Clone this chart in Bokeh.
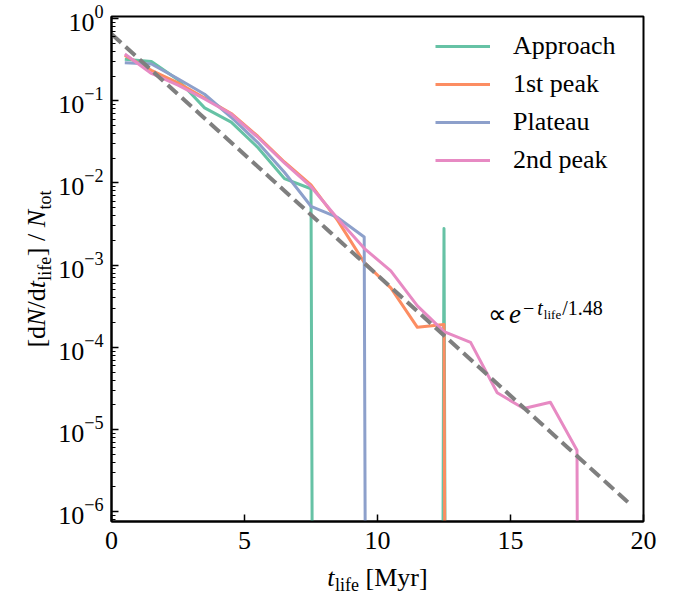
import numpy as np
from bokeh.plotting import figure
from bokeh.models import Range1d, FixedTicker, Legend, LegendItem, ColumnDataSource
from bokeh.core.properties import value
from bokeh.embed import file_html
from bokeh.resources import INLINE

# ---------------- data ----------------
t_bins = [0.5, 1.5, 2.5, 3.5, 4.5, 5.5, 6.5, 7.5, 8.5, 9.5,
          10.5, 11.5, 12.5, 13.5, 14.5, 15.5, 16.5, 17.5, 18.5]

approach = [0.32, 0.30, 0.18, 0.082, 0.055, 0.027, 0.0113, 0.0085,
            0, 0, 0, 0, 0.0028, 0]
peak1 = [0.355, 0.235, 0.165, 0.108, 0.070, 0.037, 0.018, 0.0095,
         0.0035, 0.00108, 0.00053, 0.000175, 0.00019, 0]
plateau = [0.29, 0.28, 0.185, 0.12, 0.063, 0.031, 0.0135, 0.0052,
           0.0038, 0.0022, 0]
peak2 = [0.37, 0.215, 0.155, 0.105, 0.069, 0.036, 0.0175, 0.0090,
         0.0037, 0.0016, 0.00085, 0.00032, 0.000155, 0.000115,
         0.000028, 0.000018, 0.0000215, 0.0000056, 0]

series_names = ["Approach", "1st peak", "Plateau", "2nd peak"]
series_values = [approach, peak1, plateau, peak2]
series_colors = ["#66c2a5", "#fc8d62", "#8da0cb", "#e78ac3"]

FIT_AMP = 0.65
FIT_TAU = 1.48
FIT_TMAX = 19.5

x_ticks = [0, 5, 10, 15, 20]
y_ticks = [1e-6, 1e-5, 1e-4, 1e-3, 1e-2, 1e-1, 1e0]

XMIN, XMAX = 0, 20
YMIN, YMAX = 7.6e-7, 1.06
FLOOR = 1e-100  # zero bins are drawn far below the axis (clipped)

# ---------------- figure ----------------
W_PX, H_PX = 683, 597
L_PX, R_PX, T_PX, B_PX = 111, 643, 16, 521

p = figure(width=W_PX, height=H_PX, x_range=Range1d(XMIN, XMAX),
           y_range=Range1d(YMIN, YMAX), y_axis_type="log",
           output_backend="svg", toolbar_location=None,
           min_border_left=L_PX, min_border_right=W_PX - R_PX,
           min_border_top=T_PX, min_border_bottom=H_PX - B_PX)
p.grid.visible = False
p.background_fill_color = "white"
p.border_fill_color = "white"
p.outline_line_color = "black"
p.outline_line_width = 2

FONT = "Liberation Serif"

p.xaxis.ticker = FixedTicker(ticks=x_ticks)
y_minor = [m * 10.0 ** e for e in range(-7, 1) for m in range(2, 10)]
y_minor = [v for v in y_minor if YMIN <= v <= YMAX]
p.yaxis.ticker = FixedTicker(ticks=y_ticks, minor_ticks=y_minor)

for ax in (p.xaxis[0], p.yaxis[0]):
    ax.axis_line_width = 2
    ax.major_tick_in = 7
    ax.major_tick_out = 0
    ax.major_tick_line_width = 1.5
    ax.minor_tick_in = 4
    ax.minor_tick_out = 0
    ax.minor_tick_line_width = 1
    ax.major_label_text_font = FONT
    ax.major_label_text_font_size = "26px"
    ax.major_label_text_color = "black"
    ax.major_label_standoff = 8
p.xaxis.minor_tick_line_color = None
p.xaxis.major_label_standoff = 10

# ---------------- series ----------------
items = []
for name, vals, color in zip(series_names, series_values, series_colors):
    xs = t_bins[:len(vals)]
    ys = [v if v > 0 else FLOOR for v in vals]
    r = p.line(xs, ys, line_color=color, line_width=3, line_join="round")
    items.append(LegendItem(label=name, renderers=[r]))

t_fit = np.linspace(0, FIT_TMAX, 100)
p.line(t_fit, FIT_AMP * np.exp(-t_fit / FIT_TAU), line_color="#7f7f7f",
       line_width=4, line_dash="13 6")

legend = Legend(items=items, location=(324, 346), margin=0, padding=0,
                spacing=8, glyph_width=55, glyph_height=30, label_height=30,
                label_standoff=23, label_text_font=FONT,
                label_text_font_size="26px", label_text_color="black",
                background_fill_alpha=0, border_line_color=None)
p.add_layout(legend)

# ---------------- composite texts ----------------
W = {' ': 250, '[': 333, ']': 333, 'd': 500, 'N': 722, '/': 278, 't': 278,
     'l': 278, 'i': 278, 'f': 333, 'e': 444, 'o': 500, 'M': 889, 'y': 500,
     'r': 333, '1': 500, '.': 250, '4': 500, '8': 500, '\u2212': 564,
     '\u221d': 713}
WI = {'N': 667, 't': 278, 'e': 444}
BASE_FIX = 0.38  # em shift so that the drawn baseline lands where intended

LT, LB = np.log10(YMAX), np.log10(YMIN)


def tw(s, size, italic=False):
    return sum((WI[c] if italic and c in WI else W.get(c, 500)) for c in s) / 1000 * size


def dx(px):
    return XMIN + (px - L_PX) / (R_PX - L_PX) * (XMAX - XMIN)


def dy(py):
    return 10 ** (LT - (py - T_PX) / (B_PX - T_PX) * (LT - LB))


txt = dict(x=[], y=[], text=[], size=[], style=[], angle=[])


def add_text(s, px, py, size, italic, rotated=False):
    if rotated:
        px -= BASE_FIX * size
    else:
        py -= BASE_FIX * size
    txt["x"].append(dx(px))
    txt["y"].append(dy(py))
    txt["text"].append(s)
    txt["size"].append(f"{size}px")
    txt["style"].append("italic" if italic else "normal")
    txt["angle"].append(np.pi / 2 if rotated else 0.0)


# pieces: (text, size, italic, baseline shift, gap before)
# x label: t_life [Myr]
xl = [("t", 26, True, 0, 0), ("life", 18, False, 4, 0.5),
      ("[Myr]", 26, False, 0, 6.5)]
total = sum(tw(s, sz, it) + g for s, sz, it, _, g in xl)
x = (L_PX + R_PX) / 2 - total / 2
for s, sz, it, sh, g in xl:
    x += g
    add_text(s, x, 587 + sh, sz, it)
    x += tw(s, sz, it)

# y label: [dN/dt_life] / N_tot  (rotated)
yl = [("[d", 26, False, 0, 0), ("N", 26, True, 0, 0), ("/d", 26, False, 0, 0),
      ("t", 26, True, 0, 0), ("life", 18, False, 5, 0.5), ("]", 26, False, 0, 0.5),
      ("/", 26, False, 0, 6.5), ("N", 26, True, 0, 6.5), ("tot", 18, False, 5, 0.5)]
total = sum(tw(s, sz, it) + g for s, sz, it, _, g in yl)
y = (T_PX + B_PX) / 2 + total / 2
for s, sz, it, sh, g in yl:
    y -= g
    add_text(s, 46 + sh, y, sz, it, rotated=True)
    y -= tw(s, sz, it)

# annotation: ∝ e^{-t_life/1.48}
ann = [("\u221d", 26, False, 0, 0), ("e", 27, True, 0, 3),
       ("\u2212", 20, False, -9, 2), ("t", 20, True, -9, 3),
       ("life", 13, False, -5, 1), (f"/{FIT_TAU}", 20, False, -9, 1)]
x = 487
for s, sz, it, sh, g in ann:
    x += g
    add_text(s, x, 324 + sh, sz, it)
    x += tw(s, sz, it)

src = ColumnDataSource(txt)
p.text(x="x", y="y", text="text", source=src, text_font=value(FONT),
       text_font_size="size", text_font_style="style", angle="angle",
       text_align="left", text_baseline="alphabetic", text_color="black",
       level="overlay")

open("out.html", "w").write(file_html(p, INLINE))
